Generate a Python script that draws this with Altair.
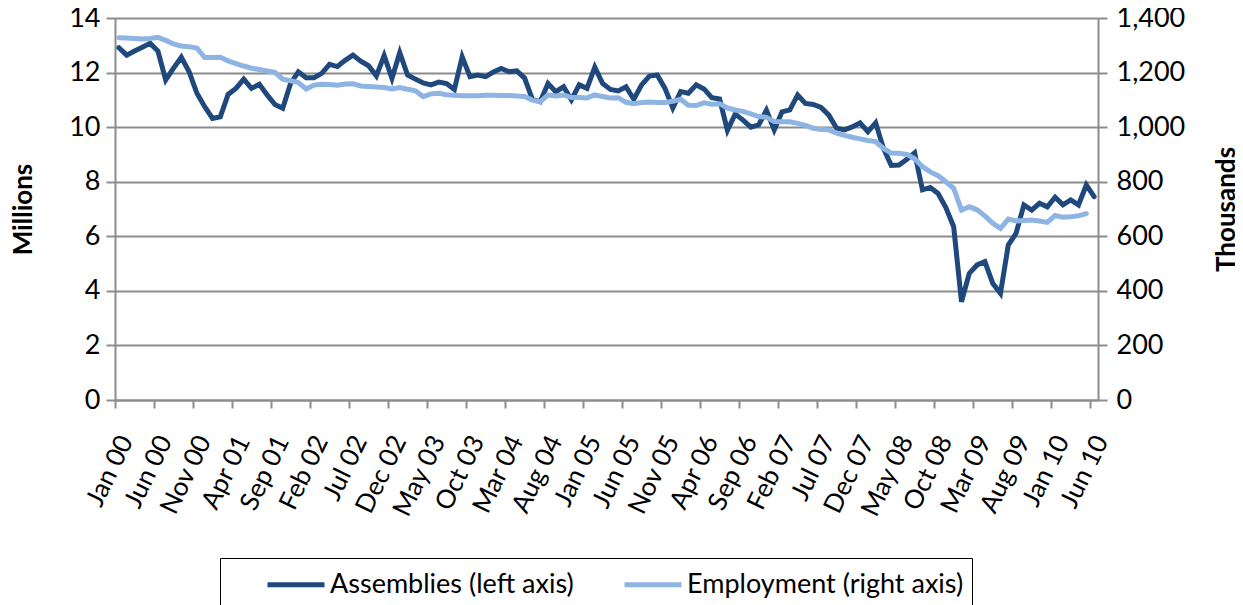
import altair as alt
import pandas as pd

tick_labels = ["Jan 00", "Jun 00", "Nov 00", "Apr 01", "Sep 01", "Feb 02", "Jul 02",
               "Dec 02", "May 03", "Oct 03", "Mar 04", "Aug 04", "Jan 05", "Jun 05",
               "Nov 05", "Apr 06", "Sep 06", "Feb 07", "Jul 07", "Dec 07", "May 08",
               "Oct 08", "Mar 09", "Aug 09", "Jan 10", "Jun 10"]

# Monthly, Jan 2000 - Jun 2010 (millions, left axis)
assemblies = [12.91, 12.64, 12.79, 12.93, 13.07, 12.79, 11.73, 12.16, 12.56, 12.03,
              11.24, 10.75, 10.32, 10.38, 11.20, 11.42, 11.76, 11.42, 11.57, 11.18,
              10.83, 10.69, 11.60, 12.03, 11.81, 11.81, 11.97, 12.30, 12.22, 12.45,
              12.64, 12.42, 12.25, 11.88, 12.62, 11.79, 12.73, 11.91, 11.76, 11.62,
              11.55, 11.65, 11.60, 11.38, 12.58, 11.85, 11.91, 11.85, 12.02, 12.15,
              12.03, 12.06, 11.80, 11.02, 10.93, 11.60, 11.30, 11.48, 11.00, 11.55,
              11.42, 12.20, 11.60, 11.38, 11.33, 11.48, 11.02, 11.55, 11.87, 11.91,
              11.42, 10.70, 11.30, 11.24, 11.55, 11.40, 11.08, 11.03, 9.88, 10.48,
              10.26, 10.00, 10.08, 10.62, 9.90, 10.56, 10.63, 11.18, 10.87, 10.83,
              10.72, 10.44, 9.96, 9.90, 10.01, 10.16, 9.83, 10.16, 9.22, 8.60,
              8.61, 8.82, 9.06, 7.70, 7.79, 7.57, 7.05, 6.35, 3.60, 4.64,
              4.95, 5.07, 4.28, 3.91, 5.68, 6.11, 7.15, 6.96, 7.21, 7.08,
              7.43, 7.15, 7.33, 7.15, 7.88, 7.45]

# Monthly, Jan 2000 - May 2010 (thousands, right axis)
employment = [1328, 1327, 1325, 1323, 1325, 1329, 1318, 1305, 1297, 1295,
              1290, 1255, 1255, 1256, 1243, 1233, 1224, 1216, 1211, 1206,
              1201, 1176, 1170, 1163, 1140, 1154, 1157, 1156, 1154, 1158,
              1159, 1151, 1149, 1147, 1145, 1140, 1145, 1139, 1133, 1112,
              1122, 1124, 1119, 1117, 1115, 1115, 1115, 1117, 1117, 1116,
              1116, 1114, 1112, 1099, 1093, 1118, 1114, 1118, 1109, 1109,
              1107, 1118, 1112, 1107, 1108, 1091, 1086, 1090, 1092, 1090,
              1090, 1095, 1102, 1080, 1079, 1089, 1084, 1086, 1070, 1063,
              1058, 1049, 1039, 1036, 1021, 1020, 1020, 1014, 1006, 996,
              991, 990, 978, 970, 963, 957, 951, 947, 922, 905,
              904, 900, 884, 855, 836, 822, 800, 776, 696, 708,
              697, 675, 648, 629, 663, 656, 658, 660, 656, 651,
              676, 670, 672, 675, 683]

series_names = ["Assemblies (left axis)", "Employment (right axis)"]
series_colors = ["#1F497D", "#8DB4E3"]

df_a = pd.DataFrame({"i": list(range(len(assemblies))), "value": assemblies,
                     "series": series_names[0]})
df_e = pd.DataFrame({"i": list(range(len(employment))), "value": employment,
                     "series": series_names[1]})

FONT = "Lato"
FS = 27
GRID = "#8C8C8C"
label_arr = "[" + ",".join("'" + t + "'" for t in tick_labels) + "]"

x_enc = alt.X(
    "i:Q",
    scale=alt.Scale(domain=[-0.5, 125.5], nice=False, zero=False),
    axis=alt.Axis(
        title=None, values=list(range(0, 126, 5)), grid=False,
        labelExpr=label_arr + "[round(datum.value/5)]",
        tickOffset=-3.9, labelOffset=11, labelAngle=296,
        labelAlign="right", labelBaseline="middle", labelOverlap=False,
        tickSize=8, labelPadding=29, labelFontSize=26, labelFont=FONT,
        labelColor="#000000", domainColor=GRID, tickColor=GRID,
        domainWidth=2, tickWidth=2,
    ),
)

# wide stroke symbol (about 57 px) on a compact 32 px legend row
color_enc = alt.Color(
    "series:N",
    scale=alt.Scale(domain=series_names, range=series_colors),
    legend=alt.Legend(
        orient="none", legendX=105, legendY=540, direction="horizontal",
        title=" ", titleOrient="left", titlePadding=37, titleFontSize=10,
        strokeColor="#000000", padding=8, symbolType="M-1,0H2.5625",
        symbolSize=1024, symbolStrokeWidth=5, labelFontSize=FS,
        labelFont=FONT, labelColor="#000000", labelOffset=28,
        columnPadding=40, labelLimit=500,
        labelExpr="datum.value == 'Employment (right axis)' ? datum.label + '\u00a0\u00a0\u00a0\u00a0\u00a0' : datum.label",
    ),
)

left = alt.Chart(df_a).mark_line(strokeWidth=5, strokeCap="round").encode(
    x=x_enc,
    y=alt.Y(
        "value:Q",
        scale=alt.Scale(domain=[0, 14], nice=False),
        axis=alt.Axis(
            title="Millions", values=list(range(0, 15, 2)), grid=True,
            gridColor=GRID, gridWidth=2, orient="left",
            tickSize=9, labelPadding=6, labelFontSize=FS, labelFont=FONT,
            labelColor="#000000", domainColor=GRID, tickColor=GRID,
            domainWidth=2, tickWidth=2, titleFont=FONT, titleFontSize=26,
            titleFontWeight="bold", titleColor="#000000", titlePadding=32,
        ),
    ),
    color=color_enc,
)

right = alt.Chart(df_e).mark_line(strokeWidth=5, strokeCap="round").encode(
    x=x_enc,
    y=alt.Y(
        "value:Q",
        scale=alt.Scale(domain=[0, 1400], nice=False),
        axis=alt.Axis(
            title="Thousands", values=list(range(0, 1401, 200)), grid=False,
            orient="right", format=",d", titleAngle=270,
            tickSize=9, labelPadding=9, labelFontSize=FS, labelFont=FONT,
            labelColor="#000000", domainColor=GRID, tickColor=GRID,
            domainWidth=2, tickWidth=2, titleFont=FONT, titleFontSize=26,
            titleFontWeight="bold", titleColor="#000000", titlePadding=55,
        ),
    ),
    color=color_enc,
)

chart = alt.layer(left, right).resolve_scale(y="independent").properties(
    width=983, height=382,
    autosize=alt.AutoSizeParams(type="none"),
    padding={"left": 107, "top": 10, "right": 137, "bottom": 205},
).configure_view(fill="#F2F2F2", stroke=None).configure(background="#FFFFFF")

chart.save("out.html", embed_options={"renderer": "svg", "actions": False})
